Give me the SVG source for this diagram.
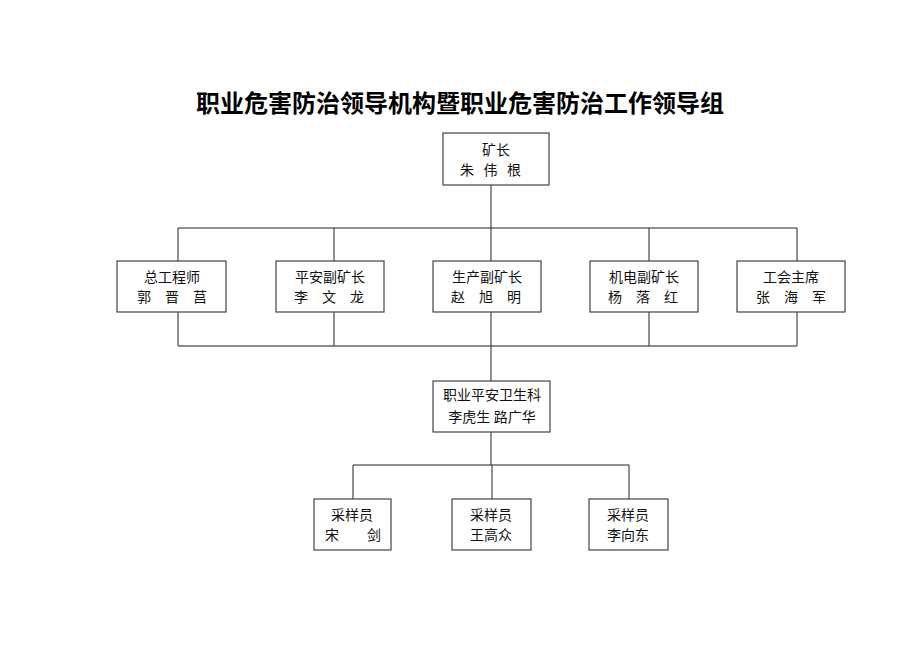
<svg xmlns="http://www.w3.org/2000/svg" width="920" height="651" viewBox="0 0 920 651">
<style>
.box{fill:#fff;stroke:#444;stroke-width:1.2}
.ln{fill:none;stroke:#222;stroke-width:1}
.ln2{fill:none;stroke:#666;stroke-width:1.6}
text{font-family:"Liberation Serif","Noto Sans CJK SC",serif;font-size:14px;fill:#111;text-anchor:middle}
.title{font-family:"Noto Sans CJK SC",sans-serif;font-size:24px;font-weight:bold;fill:#000}
</style>
<rect width="920" height="651" fill="#fff"/>
<text class="title" x="460" y="112">职业危害防治领导机构暨职业危害防治工作领导组</text>
<g id="connectors">
<path class="ln" d="M491,185 V228 M178,228 H797 M178,228 V261 M334,228 V261 M491,228 V261 M649,228 V261 M797,228 V261"/>
<path class="ln" d="M178,312 V346 M334,312 V346 M491,312 V346 M649,312 V346 M797,312 V346"/>
<path class="ln2" d="M178,346 H797"/>
<path class="ln" d="M491,346 V381 M491,432 V465 M353,465 H629 M353,465 V499 M492,465 V499 M629,465 V499"/>
</g>
<g id="n-kuangzhang">
<rect class="box" x="443" y="133" width="106" height="52"/>
<text x="496" y="155">矿长</text>
<text x="492" y="175" font-size="15" letter-spacing="3">朱 伟 根</text>
</g>
<g id="n-zonggong">
<rect class="box" x="117" y="261" width="109" height="51"/>
<text x="172" y="282">总工程师</text>
<text x="172" y="302" font-size="15">郭　晋　莒</text>
</g>
<g id="n-pingan">
<rect class="box" x="276" y="261" width="108" height="51"/>
<text x="330" y="282">平安副矿长</text>
<text x="329" y="302" font-size="15">李　文　龙</text>
</g>
<g id="n-shengchan">
<rect class="box" x="433" y="261" width="108" height="51"/>
<text x="487" y="282">生产副矿长</text>
<text x="486" y="302" font-size="15">赵　旭　明</text>
</g>
<g id="n-jidian">
<rect class="box" x="590" y="261" width="108" height="51"/>
<text x="644" y="282">机电副矿长</text>
<text x="643" y="302" font-size="15">杨　落　红</text>
</g>
<g id="n-gonghui">
<rect class="box" x="737" y="261" width="108" height="51"/>
<text x="791" y="282">工会主席</text>
<text x="791" y="302" font-size="15">张　海　军</text>
</g>
<g id="n-ke">
<rect class="box" x="433" y="381" width="117" height="51"/>
<text x="492" y="400">职业平安卫生科</text>
<text x="492" y="422" font-size="15">李虎生 路广华</text>
</g>
<g id="n-cy1">
<rect class="box" x="314" y="499" width="77" height="51"/>
<text x="352" y="520">采样员</text>
<text x="353" y="540" font-size="15">宋　　剑</text>
</g>
<g id="n-cy2">
<rect class="box" x="452" y="499" width="79" height="51"/>
<text x="491" y="520">采样员</text>
<text x="491" y="540" font-size="15">王高众</text>
</g>
<g id="n-cy3">
<rect class="box" x="589" y="499" width="79" height="51"/>
<text x="628" y="520">采样员</text>
<text x="628" y="540" font-size="15">李向东</text>
</g>
</svg>
